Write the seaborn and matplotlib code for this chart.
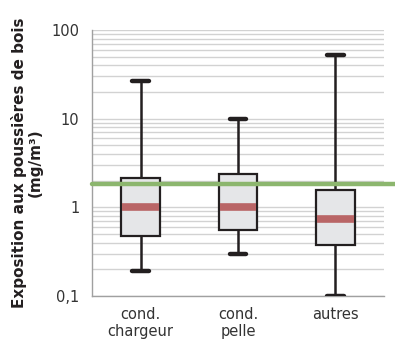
import numpy as np
import pandas as pd
import seaborn as sns
import matplotlib.pyplot as plt
from matplotlib.ticker import FixedLocator, NullFormatter

# Box statistics (mg/m3): min, Q1, median, Q3, max
categories = ['cond.\nchargeur', 'cond.\npelle', 'autres']
whisker_low = [0.19, 0.30, 0.10]
q1 = [0.475, 0.55, 0.38]
median = [1.0, 1.0, 0.74]
q3 = [2.16, 2.4, 1.55]
whisker_high = [26.5, 9.8, 52.7]
limit_value = 1.82

# five values per group so that quartiles land exactly on the read values
rows = []
for i, cat in enumerate(categories):
    for v in [whisker_low[i], q1[i], median[i], q3[i], whisker_high[i]]:
        rows.append({'categorie': cat, 'exposition': v})
df = pd.DataFrame(rows)

sns.set_style("white")
plt.rcParams['font.family'] = ['DejaVu Sans']

fig = plt.figure(figsize=(3.95, 3.41), dpi=100)
ax = fig.add_axes([0.233, 0.132, 0.739, 0.780])

sns.boxplot(
    data=df, x='categorie', y='exposition', order=categories,
    whis=(0, 100), width=0.4, log_scale=True, fill=True,
    color='#e5e6e8', linecolor='#231f20', linewidth=1.6,
    showfliers=False, ax=ax,
    boxprops={'facecolor': '#e5e6e8', 'edgecolor': '#231f20', 'zorder': 3},
    medianprops={'color': '#b96566', 'linewidth': 5.5, 'solid_capstyle': 'butt', 'zorder': 4},
    whiskerprops={'color': '#231f20', 'linewidth': 1.8, 'zorder': 3},
    capprops={'color': '#231f20', 'linewidth': 3.2, 'zorder': 3},
)

# trim median bands to the box interior, shorten the caps a little
for line in ax.lines:
    xd = line.get_xdata()
    if len(xd) != 2 or xd[0] == xd[1]:
        continue
    if line.get_color() == '#b96566':
        line.set_xdata([xd[0] + 0.012, xd[1] - 0.012])
    elif line.get_linewidth() > 3:
        c = (xd[0] + xd[1]) / 2
        h = (xd[1] - xd[0]) / 2 * 0.85
        line.set_xdata([c - h, c + h])

ax.axhline(limit_value, xmin=0, xmax=1.04, color='#8cb66e', lw=3.2, zorder=5, clip_on=False)

ax.set_yscale('log')
ax.set_ylim(0.1, 100)
ax.set_xlim(-0.5, 2.5)
ax.set_yticks([0.1, 1, 10, 100])
ax.set_yticklabels(['0,1', '1', '10', '100'])
ax.yaxis.set_minor_locator(FixedLocator([m * 10.0 ** e for e in range(-1, 2) for m in range(2, 10)]))
ax.yaxis.set_minor_formatter(NullFormatter())
ax.grid(True, which='both', axis='y', color='#d2d2d2', lw=1.0, zorder=0)
ax.set_axisbelow(True)

ax.xaxis.set_minor_locator(FixedLocator([-0.5, 0.5, 1.5, 2.5]))
ax.tick_params(axis='x', which='major', length=0, labelsize=10.5, labelcolor='#333333', pad=8)
ax.tick_params(axis='x', which='minor', length=4, color='#a0a0a0', width=1, direction='out')
ax.tick_params(axis='y', which='major', length=4, color='#a0a0a0', width=1, direction='out',
               labelsize=10.5, labelcolor='#333333', pad=5)
ax.tick_params(axis='y', which='minor', length=0)

for side in ['top', 'right']:
    ax.spines[side].set_visible(False)
for side in ['left', 'bottom']:
    ax.spines[side].set_color('#a0a0a0')
    ax.spines[side].set_linewidth(1)

ax.set_xlabel('')
ax.set_ylabel('Exposition aux poussières de bois\n(mg/m³)', fontsize=11, fontweight='bold',
              color='#231f20', labelpad=6, linespacing=1.1)

plt.savefig('out.png', dpi=100)
plt.close()
